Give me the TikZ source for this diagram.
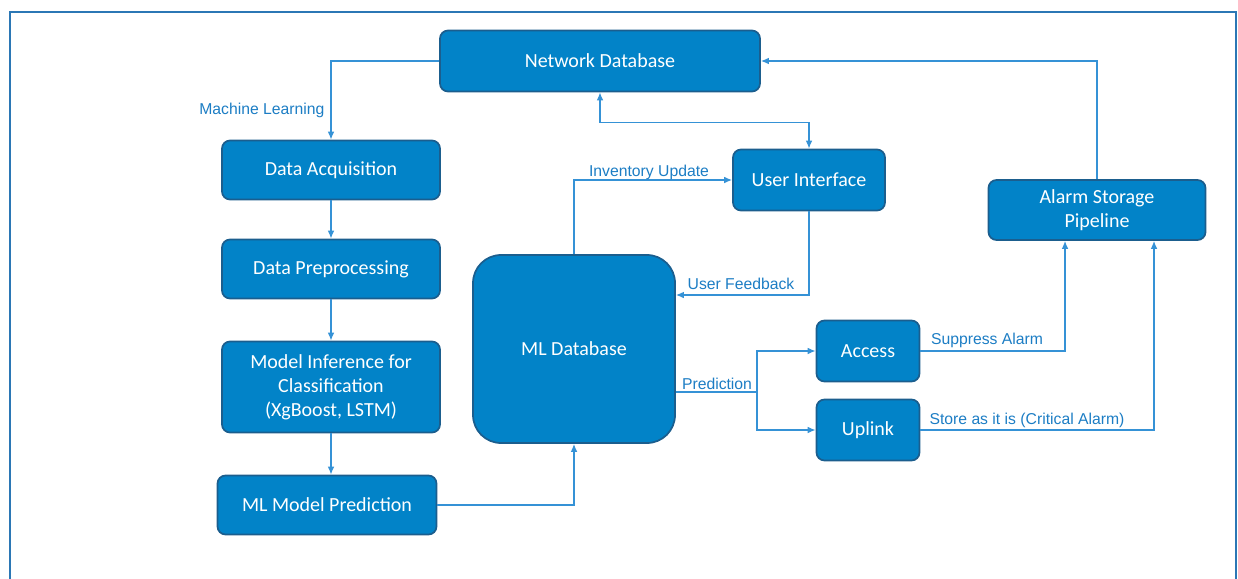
\documentclass[tikz,border=0pt]{standalone}
\usepackage{fontspec}
\setmainfont{Carlito}
\newfontfamily\lblfont{Liberation Sans}
\usetikzlibrary{arrows.meta}

\definecolor{boxblue}{HTML}{0283C8}
\definecolor{boxedge}{HTML}{1B5E8E}
\definecolor{wireblue}{HTML}{3592D6}
\definecolor{textblue}{HTML}{1C7DC4}
\definecolor{frameblue}{HTML}{2B77B5}

\tikzset{
  block/.style={draw=boxedge, line width=1.3pt, fill=boxblue, rounded corners=6pt,
    text=white, align=center, font=\fontsize{15}{18}\selectfont,
    inner sep=0pt},
  wire/.style={draw=wireblue, line width=1pt},
  lbl/.style={text=textblue, font=\lblfont\fontsize{11.8}{13}\selectfont, inner sep=1pt}
}

\begin{document}
\begin{tikzpicture}[x=0.75pt, y=-0.75pt, >={Latex[length=6pt,width=5pt]}]
      \useasboundingbox (0,0) rectangle (1238,578);
      \clip (0,0) rectangle (1238,578);
      % outer frame (bottom edge runs off the page)
      \draw[frameblue, line width=2pt] (10,12) rectangle (1236,600);

      % Blocks
      \node[block, minimum width=240pt, minimum height=45.75pt] (netdb) at (600,61) {Network Database};
      \node[block, minimum width=163.5pt, minimum height=44.25pt] (acq) at (331,170) {Data Acquisition};
      \node[block, minimum width=163.5pt, minimum height=44.25pt] (prep) at (331,269) {Data Preprocessing};
      \node[block, minimum width=163.5pt, minimum height=68.25pt] (infer) at (331,387) {Model Inference for\\Classification\\(XgBoost, LSTM)};
      \node[block, minimum width=164.25pt, minimum height=44.25pt] (mlpred) at (327,505) {ML Model Prediction};
      \node[block, minimum width=151.5pt, minimum height=141pt, rounded corners=21pt] (mldb) at (574,349) {ML Database};
      \node[block, minimum width=114pt, minimum height=45.75pt] (ui) at (809,180) {User Interface};
      \node[block, minimum width=162.75pt, minimum height=45pt] (alarm) at (1097,210) {Alarm Storage\\Pipeline};
      \node[block, minimum width=77.25pt, minimum height=45.75pt] (access) at (868,351) {Access};
      \node[block, minimum width=77.25pt, minimum height=45.75pt] (uplink) at (868,430) {Uplink};

      % Connectors
      \draw[wire, ->] (netdb.west) -| (acq.north);
      \draw[wire, ->] (acq.south) -- (prep.north);
      \draw[wire, ->] (prep.south) -- (infer.north);
      \draw[wire, ->] (infer.south) -- (infer.south |- mlpred.north);
      \draw[wire, ->] (mlpred.east) -| (mldb.south);
      \draw[wire, ->] (mldb.north) |- (ui.west);
      \draw[wire, <->] (netdb.south) -- ++(0,30) -| (ui.north);
      \draw[wire, ->] (ui.south) |- ([yshift=40.5pt]mldb.east);
      \coordinate (split) at (757,392);
      \draw[wire] (mldb.east |- split) -- (split);
      \draw[wire, ->] (split) |- (access.west);
      \draw[wire, ->] (split) |- (uplink.west);
      \draw[wire, ->] (access.east) -| ([xshift=-24pt]alarm.south);
      \draw[wire, ->] (uplink.east) -| ([xshift=42.75pt]alarm.south);
      \draw[wire, ->] (alarm.north) |- (netdb.east);

      % Labels
      \node[lbl, anchor=east] (mllearn) at (326,110) {Machine Learning};
      \node[lbl] (invupd) at (649,172) {Inventory Update};
      \node[lbl] (feedback) at (741,284) {User Feedback};
      \node[lbl] (predlbl) at (717,384) {Prediction};
      \node[lbl] (suppress) at (987,340) {Suppress Alarm};
      \node[lbl] (store) at (1027,420) {Store as it is (Critical Alarm)};
\end{tikzpicture}
\end{document}
